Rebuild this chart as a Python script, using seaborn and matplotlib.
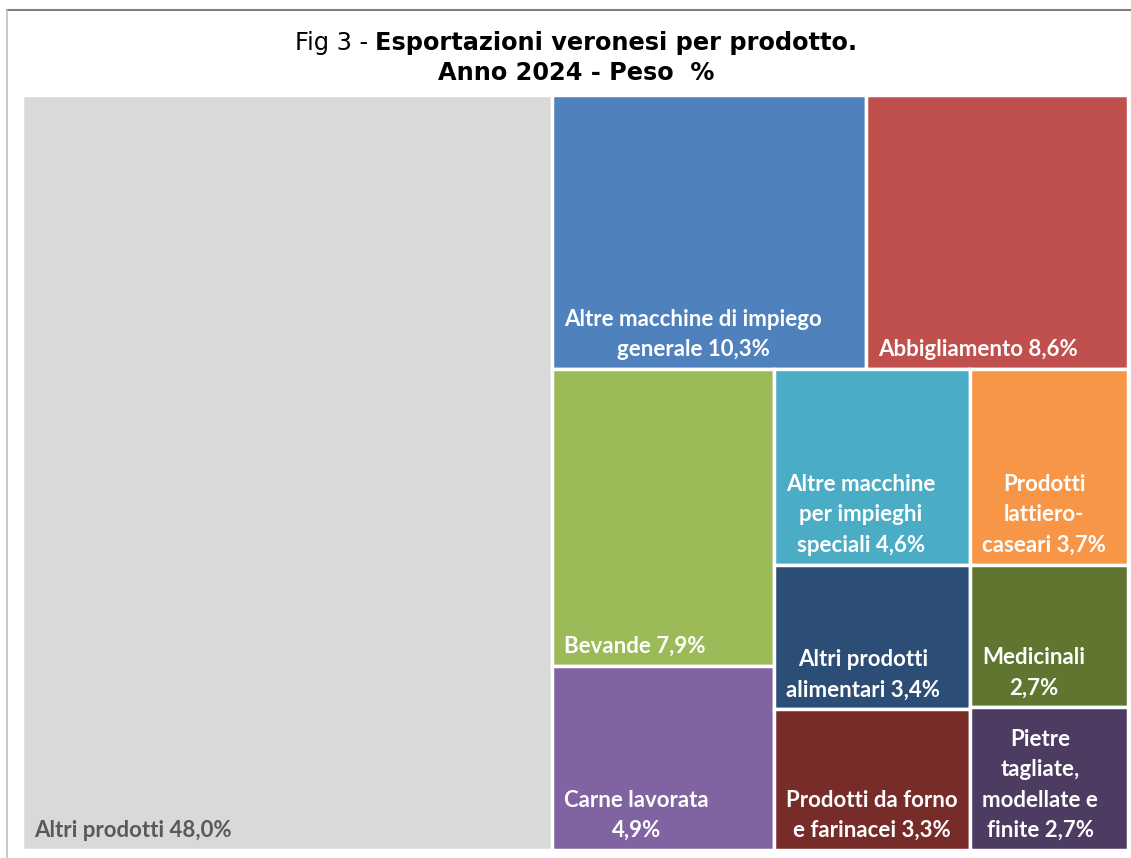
import matplotlib
matplotlib.use("Agg")
import matplotlib.pyplot as plt
from matplotlib.patches import Rectangle
from matplotlib.lines import Line2D
import seaborn as sns

# Data: export shares by product (Verona, 2024)
products = [
    "Altri prodotti {v}",
    "Altre macchine di impiego\ngenerale {v}",
    "Abbigliamento {v}",
    "Bevande {v}",
    "Carne lavorata\n{v}",
    "Altre macchine\nper impieghi\nspeciali {v}",
    "Prodotti\nlattiero-\ncaseari {v}",
    "Altri prodotti\nalimentari {v}",
    "Prodotti da forno\ne farinacei {v}",
    "Medicinali\n{v}",
    "Pietre\ntagliate,\nmodellate e\nfinite {v}",
]
shares = [48.0, 10.3, 8.6, 7.9, 4.9, 4.6, 3.7, 3.4, 3.3, 2.7, 2.7]
colors = ["#D9D9D9", "#4F81BD", "#C0504D", "#9BBB59", "#8064A2", "#4BACC6",
          "#F79646", "#2C4D75", "#772C2A", "#5F7530", "#4D3B62"]
text_colors = ["#595959"] + ["white"] * 10


def worst(row, side):
    s = sum(row)
    return max(max(side * side * r / (s * s), s * s / (side * side * r)) for r in row)


def squarify(areas, x, y, dx, dy):
    rects = []
    areas = list(areas)
    while areas:
        side = min(dx, dy)
        row = [areas[0]]
        i = 1
        while i < len(areas) and worst(row + [areas[i]], side) <= worst(row, side):
            row.append(areas[i])
            i += 1
        areas = areas[i:]
        s = sum(row)
        if dx >= dy:
            cw = s / dy
            yy = y
            for a in row:
                h = a / cw
                rects.append((x, yy, cw, h))
                yy += h
            x += cw
            dx -= cw
        else:
            rh = s / dx
            xx = x
            for a in row:
                w = a / rh
                rects.append((xx, y, w, rh))
                xx += w
            y += rh
            dy -= rh
    return rects


sns.set_theme(style="white")
plt.rcParams["font.family"] = ["DejaVu Sans"]

FW, FH = 1131, 858
W, H = 1106, 755
fig = plt.figure(figsize=(FW / 100, FH / 100), dpi=100)
ax = fig.add_axes([22 / FW, 8 / FH, W / FW, H / FH])
ax.set_xlim(0, W)
ax.set_ylim(H, 0)
ax.axis("off")

total = sum(shares)
areas = [s / total * W * H for s in shares]
rects = squarify(areas, 0, 0, W, H)

for (x, y, w, h), name, val, col, tc in zip(rects, products, shares, colors, text_colors):
    ax.add_patch(Rectangle((x, y), w, h, facecolor=col, edgecolor="white", linewidth=2.5))
    label = name.format(v=f"{val:.1f}".replace(".", ",") + "%")
    ax.text(x + 12, y + h - 13, label, ha="left", va="baseline", multialignment="center",
            color=tc, fontsize=16, fontweight="bold", family="Lato", linespacing=1.55)

# frame of the chart
fig.add_artist(Line2D([7 / FW, 1], [1 - 10 / FH, 1 - 10 / FH], color="#7F7F7F", lw=1.5))
fig.add_artist(Line2D([7 / FW, 7 / FW], [0, 1 - 10 / FH], color="#BFBFBF", lw=1.2))

# title, partly regular and partly bold
fig.canvas.draw()
r = fig.canvas.get_renderer()
ts = 17.3
t1 = fig.text(0, 1 - 50 / FH, "Fig 3 -", fontsize=ts, va="baseline", color="black")
t2 = fig.text(0, 1 - 50 / FH, "Esportazioni veronesi per prodotto.", fontsize=ts,
              fontweight="bold", va="baseline", color="black")
w1 = t1.get_window_extent(r).width
w2 = t2.get_window_extent(r).width
gap = ts * 0.35
x0 = 576 - (w1 + gap + w2) / 2
t1.set_x(x0 / FW)
t2.set_x((x0 + w1 + gap) / FW)
fig.text(576 / FW, 1 - 80 / FH, "Anno 2024 - Peso  %", fontsize=ts, fontweight="bold",
         ha="center", va="baseline", color="black")

fig.savefig("out.png", dpi=100, facecolor="white")
